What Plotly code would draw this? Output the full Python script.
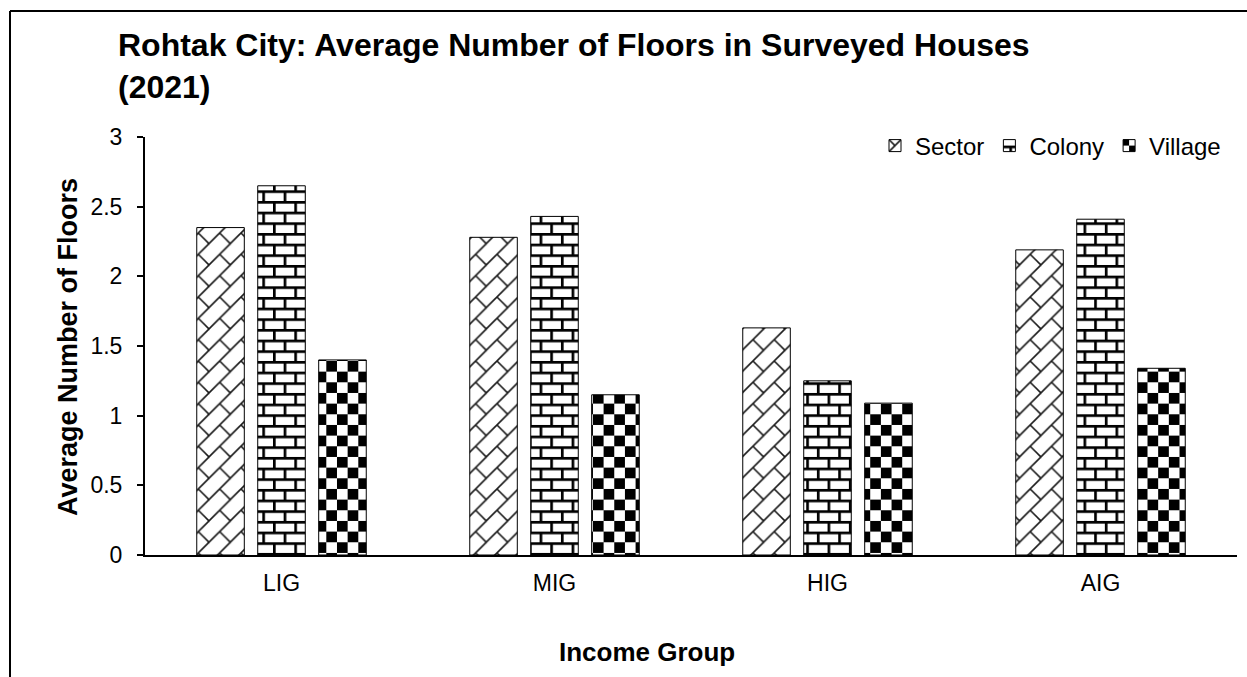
import json
import plotly.graph_objects as go

# Survey results: average number of floors per house, by income group and settlement type
income_groups = ["LIG", "MIG", "HIG", "AIG"]
sector = [2.35, 2.28, 1.63, 2.19]
colony = [2.65, 2.43, 1.25, 2.41]
village = [1.40, 1.15, 1.09, 1.34]

series_names = ["Sector", "Colony", "Village"]
y_ticks = [0, 0.5, 1, 1.5, 2, 2.5, 3]

FONT = "Liberation Sans, Arial, sans-serif"
INK = "#000000"

# --- hatch textures (SVG pattern tiles) --------------------------------------
S = 21.33          # tile size
H = S / 2
M = 2.67           # brick mortar thickness


def diag_brick():
    shapes = []
    for k in (-1, 0, 1):
        shapes.append(["path", {"d": f"M{-S},{2*S + k*S}L{2*S},{-S + k*S}",
                                "stroke": "#1a1a1a", "stroke-width": 1.6, "fill": "none"}])
    for a, b in ((0, 0), (-S, -S), (-S, 0), (0, -S)):
        shapes.append(["path", {"d": f"M{H + a},{H + b}L{S + a},{S + b}",
                                "stroke": "#1a1a1a", "stroke-width": 1.6, "fill": "none"}])
    return shapes


def horiz_brick():
    rects = [(0, 0, S, M), (0, 0, M, H), (0, H, S, M), (H, H, M, H)]
    return [["rect", {"x": x, "y": y, "width": w, "height": h, "fill": "#000"}] for x, y, w, h in rects]


def checker():
    rects = [(0, 0, H, H), (H, H, H, H)]
    return [["rect", {"x": x, "y": y, "width": w, "height": h, "fill": "#000"}] for x, y, w, h in rects]


textures = [
    {"id": "tex-sector", "size": S, "shapes": diag_brick()},
    {"id": "tex-colony", "size": S, "shapes": horiz_brick()},
    {"id": "tex-village", "size": S, "shapes": checker()},
]

fallback_shapes = ["/", "+", "x"]

fig = go.Figure()
for name, values, shp in zip(series_names, [sector, colony, village], fallback_shapes):
    fig.add_trace(go.Bar(
        name=name,
        x=income_groups,
        y=values,
        marker=dict(
            color="white",
            line=dict(color=INK, width=1),
            pattern=dict(shape=shp, fgcolor="black", bgcolor="white", size=10, solidity=0.3),
        ),
    ))

# plot-area pixel box used to place the outer frame and titles
L, R, T, B = 145, 10, 137, 122
W, HGT = 1247, 677
pw, ph = W - L - R, HGT - T - B


def px_x(p):
    return (p - L) / pw


def px_y(p):
    return (HGT - B - p) / ph


frame = dict(color=INK, width=2)

fig.update_layout(
    width=W,
    height=HGT,
    margin=dict(l=L, r=R, t=T, b=B, pad=0),
    paper_bgcolor="white",
    plot_bgcolor="white",
    font=dict(family=FONT, color=INK, size=23),
    barmode="group",
    bargap=0.33,
    bargroupgap=0.22,
    title=dict(
        text="Rohtak City: Average Number of Floors in Surveyed Houses<br>(2021)",
        font=dict(family=FONT, size=32, weight="bold", color=INK),
        x=118 / W, xref="container", xanchor="left",
        y=1 - 56 / HGT, yref="container", yanchor="top",
    ),
    legend=dict(
        orientation="h",
        x=px_x(1226), xanchor="right",
        y=px_y(146), yanchor="middle",
        font=dict(family=FONT, size=24, color=INK),
        bgcolor="rgba(0,0,0,0)",
        traceorder="normal",
    ),
    xaxis=dict(
        showline=True, linecolor=INK, linewidth=2,
        ticks="", showgrid=False, zeroline=False,
        ticklabelstandoff=6,
        tickfont=dict(size=23),
    ),
    yaxis=dict(
        range=[0, 3],
        tickvals=y_ticks,
        showline=True, linecolor=INK, linewidth=2,
        ticks="outside", ticklen=6, tickwidth=2, tickcolor=INK,
        showgrid=False, zeroline=False,
        ticklabelstandoff=10,
        tickfont=dict(size=23),
    ),
    annotations=[
        dict(text="Average Number of Floors", textangle=-90,
             x=px_x(68), y=px_y(347), xref="paper", yref="paper",
             showarrow=False, xanchor="center", yanchor="middle",
             font=dict(family=FONT, size=27, weight="bold", color=INK)),
        dict(text="Income Group",
             x=px_x(647), y=px_y(652), xref="paper", yref="paper",
             showarrow=False, xanchor="center", yanchor="middle",
             font=dict(family=FONT, size=26, weight="bold", color=INK)),
    ],
    shapes=[
        # outer chart frame: top and left edges
        dict(type="line", xref="paper", yref="paper",
             x0=px_x(10), x1=px_x(1260), y0=px_y(11), y1=px_y(11),
             line=frame, layer="above"),
        dict(type="line", xref="paper", yref="paper",
             x0=px_x(10), x1=px_x(10), y0=px_y(11), y1=px_y(690),
             line=frame, layer="above"),
    ],
)

# swap the built-in hatches for brick / checkerboard tiles once the plot is drawn
post_js = """
var gd = document.getElementById('{plot_id}');
var NS = 'http://www.w3.org/2000/svg';
var specs = SPECS;
function el(tag, attrs, parent) {
  var e = document.createElementNS(NS, tag);
  for (var k in attrs) { e.setAttribute(k, attrs[k]); }
  if (parent) { parent.appendChild(e); }
  return e;
}
function install() {
  var defs = gd.querySelector('svg.main-svg defs');
  specs.forEach(function (s) {
    if (document.getElementById(s.id)) { return; }
    var p = el('pattern', {id: s.id, patternUnits: 'userSpaceOnUse', width: s.size, height: s.size}, defs);
    el('rect', {x: 0, y: 0, width: s.size, height: s.size, fill: '#ffffff'}, p);
    s.shapes.forEach(function (sh) { el(sh[0], sh[1], p); });
  });
  gd.querySelectorAll('.barlayer .trace.bars').forEach(function (t, i) {
    t.querySelectorAll('.point path').forEach(function (path) {
      path.style.fill = "url('#" + specs[i].id + "')";
    });
  });
  gd.querySelectorAll('.legend .traces').forEach(function (it, i) {
    it.querySelectorAll('.legendpoints path').forEach(function (path) {
      path.style.fill = "url('#" + specs[i].id + "')";
    });
  });
}
install();
gd.on('plotly_afterplot', install);
""".replace("SPECS", json.dumps(textures))

fig.write_html("out.html", post_script=post_js)
